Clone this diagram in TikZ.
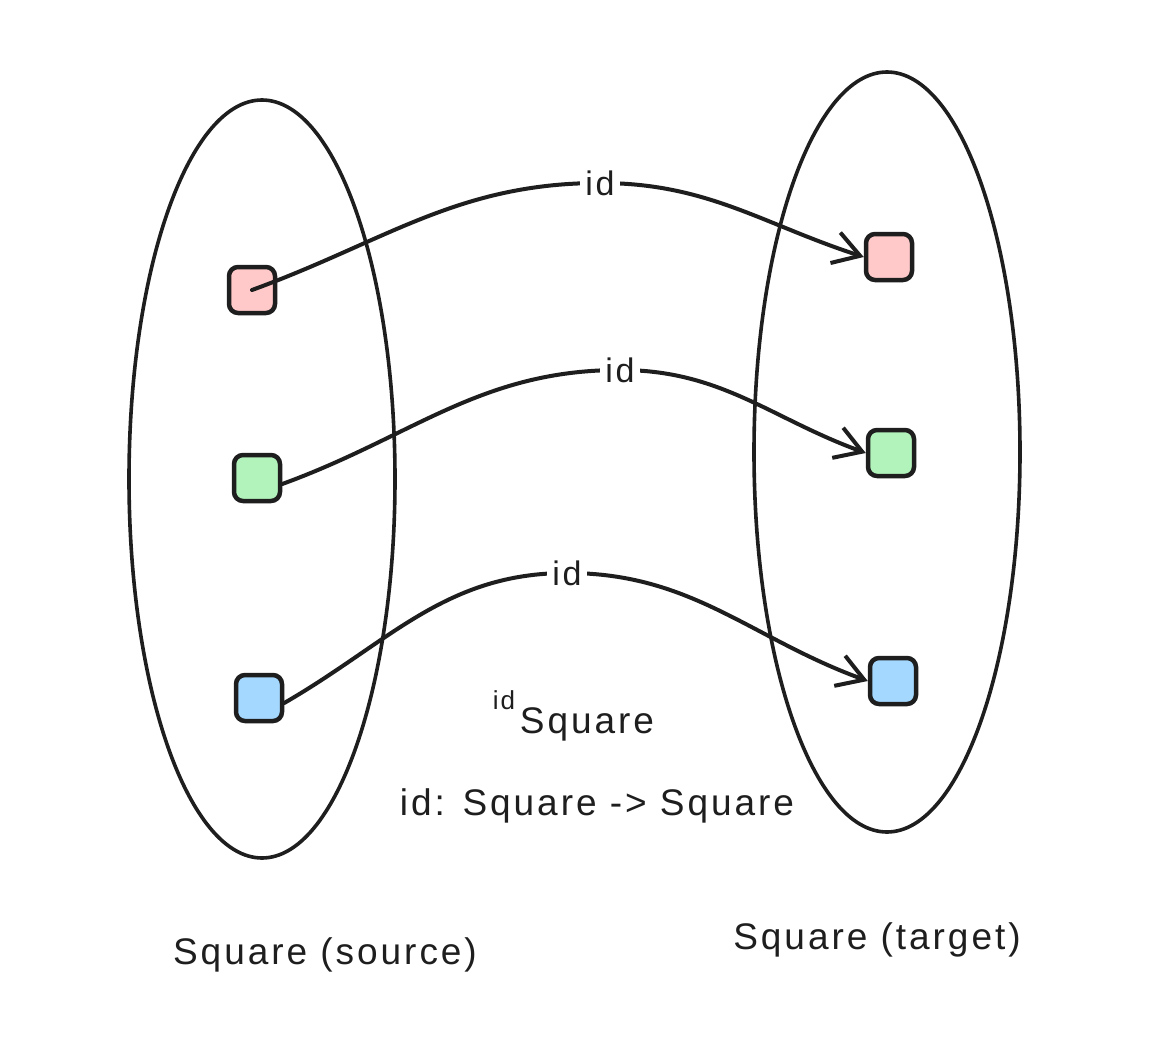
\documentclass[tikz,border=0pt]{standalone}
\usepackage{fontspec}
\setmainfont{Liberation Sans}[LetterSpace=8]
\usetikzlibrary{arrows.meta}
\definecolor{pinkf}{HTML}{FFC9C9}
\definecolor{greenf}{HTML}{B2F2BB}
\definecolor{bluef}{HTML}{A5D8FF}
\definecolor{ink}{HTML}{1E1E1E}
\tikzset{
  setshape/.style={draw=ink, line width=3.6pt},
  elem/.style={draw=ink, line width=4.5pt, rounded corners=9pt, minimum size=46pt, inner sep=0pt},
  arr/.style={draw=ink, line width=4pt, line cap=round},
  tipped/.style={-{Straight Barb[length=26pt,width=32pt,line width=4pt]}},
  lbl/.style={fill=white, inner sep=5pt, text=ink, font=\fontsize{34}{36}\selectfont},
  txt/.style={text=ink, font=\fontsize{37}{40}\selectfont, inner sep=0pt}
}
\begin{document}
\begin{tikzpicture}[x=1pt,y=-1pt]
\useasboundingbox[fill=white] (0,0) rectangle (1152,1046);
% sets
\draw[setshape] (262,479) ellipse[x radius=133, y radius=379];
\draw[setshape] (887,452) ellipse[x radius=133, y radius=380];
% elements
\node[elem, fill=pinkf] (s1) at (252,290) {};
\node[elem, fill=greenf] (s2) at (257,478) {};
\node[elem, fill=bluef] (s3) at (259,698) {};
\node[elem, fill=pinkf] (t1) at (889,257) {};
\node[elem, fill=greenf] (t2) at (891,453) {};
\node[elem, fill=bluef] (t3) at (893,681) {};
% labels positions
\coordinate (c1) at (600,183);
\coordinate (c2) at (620,370);
\coordinate (c3) at (567,573);
% arrows
\draw[arr] (s1.center) to[out=20,in=180] (c1);
\draw[arr,tipped] (c1) to[out=0,in=162] (t1.west);
\draw[arr] ([yshift=-6pt]s2.east) to[out=20,in=180] (c2);
\draw[arr,tipped] (c2) to[out=0,in=160] (t2.west);
\draw[arr] ([yshift=-5pt]s3.east) to[out=30,in=180] (c3);
\draw[arr,tipped] (c3) to[out=0,in=160] (t3.west);
\node[lbl] (l1) at (c1) {id};
\node[lbl] (l2) at (c2) {id};
\node[lbl] (l3) at (c3) {id};
% texts
\node[txt, font=\fontsize{26}{28}\selectfont] (idsup) at (504,700) {id};
\node[txt] (sqsub) at (587,724) {Square};
\node[txt] (sig) at (597,806) {id: Square -> Square};
\node[txt] (src) at (325,955) {Square (source)};
\node[txt] (tgt) at (877,940) {Square (target)};
\end{tikzpicture}
\end{document}
